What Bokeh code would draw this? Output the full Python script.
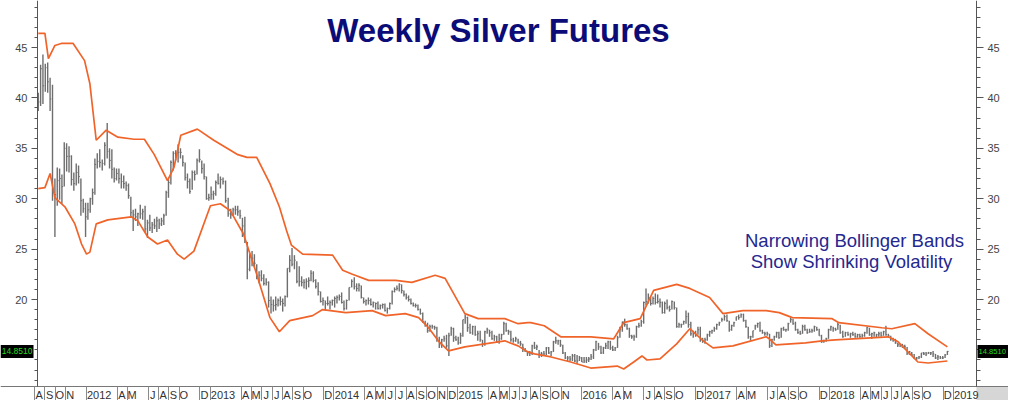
import numpy as np
import pandas as pd
from bokeh.plotting import figure
from bokeh.models import Range1d, LinearAxis, FixedTicker, Label
from bokeh.embed import file_html
from bokeh.resources import INLINE

# ---------------- data (weekly bars, week ending Friday) ----------------
week_start = "2011-08-12"

high = [
    # 2011
    40.5, 43.3, 44.3, 43.4, 43.5, 42.0, 41.3, 32.0, 33.1, 33.0, 32.4, 35.6, 35.5, 35.2, 34.3, 32.6, 33.5, 33.3, 32.0, 30.0, 29.6,
    # 2012
    29.6, 30.1, 31.0, 34.0, 34.5, 34.9, 33.9, 35.6, 37.5, 35.0, 34.9, 33.1, 33.0, 33.0, 32.5, 32.3, 31.7, 31.5, 30.2, 28.9, 29.0,
    28.6, 29.4, 29.0, 29.3, 27.9, 28.4, 27.7, 28.0, 28.2, 28.0, 28.1, 28.5, 30.8, 31.9, 33.8, 34.7, 34.8, 35.4, 35.0, 34.3, 33.6,
    32.5, 32.0, 32.8, 32.8, 34.0, 34.9, 33.8, 33.5, 32.2, 30.5,
    # 2013
    31.2, 30.8, 31.8, 32.5, 32.2, 32.1, 31.8, 30.1, 29.0, 29.1, 29.3, 29.3, 28.9, 28.1, 28.2, 25.7, 24.6, 24.8, 24.5, 23.5, 22.8,
    22.9, 22.5, 22.1, 21.8, 20.3, 20.0, 20.3, 20.1, 20.3, 20.1, 20.4, 23.1, 24.4, 25.1, 24.4, 23.8, 23.3, 22.3, 22.0, 22.1, 22.2,
    22.9, 22.8, 22.0, 21.7, 20.8, 20.2, 19.9, 20.3, 19.9, 20.0,
    # 2014
    20.3, 20.4, 20.5, 20.7, 19.9, 20.0, 21.2, 22.0, 22.2, 21.6, 21.6, 21.4, 20.2, 20.0, 20.2, 20.1, 19.8, 19.7, 19.8, 19.5, 19.6,
    19.6, 19.2, 19.7, 20.9, 21.2, 21.4, 21.6, 21.5, 20.9, 20.6, 20.4, 20.1, 19.7, 19.6, 19.5, 19.1, 18.7, 17.9, 17.7, 17.5, 17.5,
    17.4, 17.3, 16.3, 16.1, 16.4, 16.5, 16.7, 17.3, 17.2, 16.4,
    # 2015
    16.3, 16.7, 18.0, 18.5, 18.3, 17.6, 17.4, 17.4, 16.9, 16.9, 16.0, 16.9, 17.2, 17.0, 16.9, 16.5, 16.4, 16.6, 16.6, 17.8, 17.7,
    17.0, 16.9, 16.2, 16.3, 16.1, 15.9, 15.6, 15.2, 14.9, 14.9, 15.5, 15.8, 15.5, 15.0, 14.8, 14.9, 15.3, 15.3, 14.9, 15.9, 16.3,
    16.0, 16.0, 15.5, 14.8, 14.4, 14.4, 14.6, 14.6, 14.5, 14.4,
    # 2016
    14.3, 14.3, 14.3, 14.3, 14.6, 15.1, 15.9, 15.7, 15.4, 15.3, 15.7, 15.9, 15.9, 15.4, 15.3, 16.4, 17.3, 17.8, 18.1, 17.6, 17.2,
    16.5, 16.5, 17.4, 17.7, 18.0, 19.8, 21.1, 20.6, 20.2, 20.3, 20.6, 20.5, 20.1, 19.8, 19.8, 20.0, 19.4, 19.9, 19.8, 19.2, 17.7,
    17.6, 17.9, 18.9, 18.7, 17.8, 16.9, 16.9, 17.3, 17.3, 16.2, 16.2,
    # 2017
    16.6, 16.9, 17.0, 17.3, 17.6, 17.8, 18.2, 18.5, 18.5, 17.9, 17.5, 17.8, 18.3, 18.5, 18.6, 18.6, 18.0, 17.3, 16.4, 16.9, 17.5,
    17.7, 17.8, 17.0, 16.8, 16.8, 16.6, 16.1, 16.4, 16.8, 16.8, 17.2, 17.3, 17.1, 17.7, 18.2, 18.1, 17.8, 17.1, 16.9, 17.5, 17.5,
    17.1, 17.1, 17.1, 17.4, 17.3, 17.1, 16.5, 16.0, 16.2, 17.1,
    # 2018
    17.4, 17.3, 17.2, 17.7, 17.5, 16.9, 16.8, 16.8, 16.7, 16.8, 16.7, 16.6, 16.6, 16.6, 16.8, 17.3, 17.2, 16.7, 16.8, 16.6, 16.8,
    16.8, 16.9, 17.4, 16.6, 16.4, 16.2, 16.1, 15.7, 15.6, 15.6, 15.5, 15.3, 14.9, 14.8, 14.6, 14.3, 14.4, 14.7, 14.8, 14.8, 14.8,
    14.8, 14.9, 14.6, 14.5, 14.4, 14.4, 14.6, 14.9,
]

low = [
    # 2011
    38.7, 39.2, 39.4, 40.6, 40.5, 38.7, 29.8, 26.2, 29.3, 29.9, 29.5, 31.2, 32.7, 32.6, 31.3, 30.8, 31.3, 31.5, 28.3, 28.6, 26.2,
    # 2012
    27.9, 28.6, 29.4, 30.4, 33.0, 33.1, 32.8, 33.3, 34.0, 33.0, 32.0, 31.6, 31.8, 31.5, 31.0, 31.0, 30.8, 30.0, 28.2, 26.8, 27.8,
    27.3, 28.0, 27.9, 26.7, 26.1, 26.8, 26.6, 27.0, 26.7, 27.0, 27.3, 27.4, 28.3, 30.1, 31.4, 32.8, 33.8, 33.6, 34.0, 33.2, 31.8,
    31.0, 30.5, 30.9, 31.8, 32.4, 33.6, 32.5, 31.9, 29.9, 29.8,
    # 2013
    29.9, 29.9, 30.3, 31.4, 31.0, 31.4, 29.6, 28.2, 28.0, 28.3, 28.4, 28.3, 28.0, 26.2, 25.6, 22.0, 22.8, 23.3, 23.2, 22.0, 21.6,
    21.8, 21.4, 21.4, 19.2, 18.6, 18.8, 18.9, 19.3, 19.4, 18.8, 19.3, 20.2, 22.7, 23.3, 23.0, 21.6, 21.3, 21.3, 21.1, 21.0, 21.2,
    21.8, 21.7, 21.1, 20.4, 19.7, 19.4, 18.9, 19.4, 19.0, 19.4,
    # 2014
    19.2, 19.6, 19.9, 19.6, 18.9, 19.0, 19.9, 21.2, 21.0, 20.8, 20.8, 20.1, 19.6, 19.4, 19.5, 19.4, 19.2, 19.0, 19.0, 19.0, 19.1,
    18.8, 18.6, 19.0, 19.5, 20.7, 20.9, 20.8, 20.6, 20.3, 20.0, 19.8, 19.5, 19.3, 19.2, 18.9, 18.5, 17.7, 17.3, 16.7, 16.8, 17.1,
    17.0, 15.8, 15.2, 15.2, 15.8, 15.2, 14.4, 16.4, 15.8, 15.9,
    # 2015
    15.5, 15.6, 16.3, 17.6, 16.8, 16.6, 16.5, 16.4, 15.9, 15.8, 15.3, 15.4, 16.6, 16.3, 16.0, 15.9, 15.7, 15.6, 16.0, 16.5, 16.8,
    16.5, 15.8, 15.7, 15.8, 15.6, 15.4, 14.8, 14.8, 14.4, 14.4, 14.5, 15.1, 15.0, 14.2, 14.3, 14.4, 14.5, 14.6, 14.4, 14.8, 15.6,
    15.5, 15.3, 14.6, 14.1, 13.9, 13.9, 13.9, 13.8, 13.6, 13.9,
    # 2016
    13.8, 13.7, 13.7, 13.8, 14.0, 14.1, 14.9, 15.0, 14.6, 14.6, 15.1, 15.1, 15.0, 14.9, 14.9, 15.2, 16.2, 16.8, 17.3, 17.0, 16.2,
    16.1, 15.9, 16.2, 17.2, 17.3, 17.6, 19.4, 19.6, 19.4, 19.5, 19.5, 19.6, 19.2, 18.6, 18.6, 19.0, 18.8, 19.0, 19.0, 17.2, 17.2,
    17.2, 17.5, 17.6, 17.2, 16.4, 16.2, 16.3, 16.5, 15.8, 15.7, 15.6,
    # 2017
    15.9, 16.3, 16.6, 16.8, 17.0, 17.4, 17.8, 17.9, 17.8, 16.8, 16.9, 17.3, 17.9, 18.0, 18.2, 17.8, 17.2, 16.1, 15.9, 16.2, 17.0,
    17.2, 16.8, 16.6, 16.4, 16.4, 15.2, 15.3, 15.9, 16.2, 16.1, 16.2, 16.9, 16.8, 16.9, 17.7, 17.5, 16.9, 16.6, 16.5, 16.6, 16.9,
    16.6, 16.7, 16.7, 16.8, 16.9, 16.4, 15.7, 15.7, 15.8, 16.1,
    # 2018
    16.9, 16.8, 16.9, 17.0, 16.6, 16.2, 16.3, 16.4, 16.2, 16.4, 16.2, 16.2, 16.2, 16.2, 16.3, 16.6, 16.4, 16.1, 16.3, 16.2, 16.3,
    16.3, 16.4, 16.4, 16.2, 15.9, 15.8, 15.6, 15.3, 15.3, 15.2, 15.1, 14.5, 14.5, 14.4, 14.1, 14.0, 14.1, 14.2, 14.5, 14.4, 14.6,
    14.5, 14.3, 14.1, 14.0, 14.1, 14.1, 14.2, 14.5,
]

close = [
    # 2011
    39.6, 42.9, 41.2, 43.0, 41.6, 39.9, 30.7, 30.4, 31.8, 32.0, 31.2, 35.0, 34.2, 34.2, 31.9, 31.5, 32.6, 32.2, 29.8, 29.0, 28.2,
    # 2012
    28.9, 30.0, 30.6, 33.4, 33.7, 33.6, 33.5, 35.3, 34.7, 33.8, 32.9, 32.0, 32.5, 32.0, 31.7, 31.5, 31.3, 30.3, 28.6, 28.4, 28.2,
    28.5, 28.5, 28.7, 27.0, 27.6, 27.1, 27.4, 27.3, 27.8, 27.5, 27.8, 28.3, 30.6, 31.6, 33.6, 34.5, 34.2, 34.6, 34.6, 33.6, 32.1,
    31.7, 30.7, 32.6, 32.4, 33.8, 33.9, 33.0, 32.2, 30.0, 30.1,
    # 2013
    30.4, 30.5, 31.6, 31.5, 31.9, 31.7, 29.8, 28.5, 28.4, 28.9, 28.9, 28.7, 28.3, 27.3, 25.8, 23.0, 24.2, 24.1, 23.6, 22.2, 22.4,
    22.1, 21.6, 21.7, 19.9, 19.5, 19.4, 19.5, 19.9, 19.8, 19.6, 20.3, 23.1, 23.9, 23.5, 23.9, 21.8, 21.8, 21.7, 21.7, 21.8, 21.9,
    22.6, 21.9, 21.3, 20.8, 19.8, 19.9, 19.6, 19.6, 19.7, 19.9,
    # 2014
    20.1, 20.2, 20.3, 19.7, 19.1, 19.9, 21.2, 21.8, 21.3, 21.1, 21.4, 20.2, 19.8, 19.9, 19.9, 19.5, 19.7, 19.6, 19.1, 19.4, 19.5,
    18.9, 19.1, 19.6, 20.8, 21.0, 21.1, 21.5, 20.9, 20.5, 20.2, 20.0, 19.6, 19.4, 19.4, 19.0, 18.6, 17.8, 17.5, 16.9, 17.3, 17.3,
    17.2, 16.1, 15.5, 16.0, 16.1, 15.4, 16.4, 17.1, 16.2, 16.0,
    # 2015
    15.7, 16.4, 18.0, 18.2, 17.2, 16.7, 17.3, 16.5, 16.6, 16.0, 15.6, 16.8, 17.0, 16.7, 16.1, 16.3, 15.8, 16.1, 16.5, 17.6, 16.9,
    16.8, 16.0, 15.9, 16.1, 15.7, 15.6, 15.2, 14.9, 14.7, 14.7, 15.4, 15.2, 15.3, 14.6, 14.6, 14.6, 15.2, 14.7, 14.8, 15.8, 15.9,
    15.9, 15.5, 14.7, 14.2, 14.2, 14.1, 14.4, 13.9, 13.9, 14.2,
    # 2016
    13.8, 13.9, 14.0, 14.1, 14.3, 15.0, 15.8, 15.3, 14.7, 15.2, 15.4, 15.8, 15.2, 15.0, 15.2, 16.2, 17.0, 17.8, 17.5, 17.1, 16.4,
    16.3, 16.3, 17.3, 17.4, 17.8, 19.7, 19.8, 20.2, 19.6, 20.1, 19.7, 19.8, 19.7, 18.7, 19.6, 19.2, 19.0, 19.8, 19.2, 17.3, 17.5,
    17.5, 17.8, 18.3, 17.5, 16.6, 16.6, 16.5, 17.0, 16.0, 15.9, 16.0,
    # 2017
    16.5, 16.8, 16.9, 17.1, 17.5, 17.7, 18.0, 18.3, 17.9, 17.0, 17.4, 17.7, 18.3, 18.2, 18.5, 17.9, 17.3, 16.3, 16.3, 16.9, 17.4,
    17.6, 16.9, 16.7, 16.6, 16.6, 15.4, 16.0, 16.3, 16.7, 16.2, 17.1, 17.0, 17.0, 17.6, 18.0, 17.6, 17.0, 16.7, 16.6, 17.3, 17.0,
    16.7, 16.8, 16.9, 17.3, 17.0, 16.4, 15.8, 15.9, 16.1, 17.0,
    # 2018
    17.3, 17.1, 17.0, 17.5, 16.7, 16.3, 16.7, 16.5, 16.6, 16.5, 16.3, 16.5, 16.3, 16.4, 16.7, 17.2, 16.5, 16.6, 16.7, 16.5, 16.6,
    16.4, 16.8, 16.5, 16.4, 16.1, 16.0, 15.7, 15.5, 15.4, 15.4, 15.3, 14.7, 14.8, 14.5, 14.2, 14.2, 14.3, 14.7, 14.6, 14.6, 14.7,
    14.7, 14.6, 14.2, 14.3, 14.2, 14.2, 14.5, 14.85,
]

# Bollinger bands
upper_dates = ["2011-08-12", "2011-09-01", "2011-09-11", "2011-09-30", "2011-10-19", "2011-11-23", "2011-12-27",
               "2012-01-12", "2012-01-31", "2012-02-28", "2012-04-03", "2012-05-21", "2012-06-20", "2012-07-19",
               "2012-08-28", "2012-09-16", "2012-10-06", "2012-11-24", "2013-01-12", "2013-03-20", "2013-04-18",
               "2013-05-17", "2013-06-25", "2013-07-23", "2013-08-14", "2013-08-28", "2013-09-30", "2013-12-28",
               "2014-01-27", "2014-02-23", "2014-04-12", "2014-06-30", "2014-08-18", "2014-10-26", "2014-11-24",
               "2015-01-22", "2015-02-28", "2015-05-18", "2015-06-26", "2015-07-25", "2015-08-03", "2015-09-12",
               "2015-10-31", "2016-01-28", "2016-04-04", "2016-05-03", "2016-06-21", "2016-07-31", "2016-10-07",
               "2016-11-15", "2017-01-13", "2017-02-20", "2017-04-19", "2017-06-27", "2017-08-05", "2017-09-13",
               "2018-01-09", "2018-01-29", "2018-06-03", "2018-07-02", "2018-09-09", "2018-10-18", "2018-12-14"]
upper_vals = [46.4, 46.4, 43.9, 45.2, 45.4, 45.4, 43.7, 41.4, 35.8, 36.8, 36.1, 35.9, 35.9, 34.4, 31.8, 33.1, 36.3,
              36.9, 35.8, 34.4, 34.1, 34.1, 31.5, 29.2, 26.8, 25.4, 24.5, 24.4, 22.9, 22.5, 21.9, 21.9, 21.7, 22.4,
              22.1, 18.6, 18.1, 18.1, 17.6, 17.7, 17.7, 17.4, 16.3, 16.3, 16.1, 17.7, 18.1, 20.9, 21.5, 21.1, 20.2,
              18.6, 18.9, 18.9, 18.7, 18.2, 18.1, 17.7, 17.2, 17.1, 17.6, 16.6, 15.3]

lower_dates = ["2011-08-12", "2011-09-01", "2011-09-16", "2011-09-30", "2011-10-30", "2011-11-28", "2011-12-18",
               "2012-01-02", "2012-01-12", "2012-01-31", "2012-03-04", "2012-05-12", "2012-06-01", "2012-06-30",
               "2012-07-29", "2012-08-28", "2012-09-26", "2012-10-16", "2012-11-14", "2013-01-02", "2013-02-01",
               "2013-02-28", "2013-04-08", "2013-05-17", "2013-06-25", "2013-07-23", "2013-08-23", "2013-10-30",
               "2013-11-28", "2014-02-05", "2014-04-22", "2014-06-01", "2014-07-29", "2014-09-07", "2014-10-06",
               "2014-11-04", "2014-12-04", "2015-01-22", "2015-03-20", "2015-05-18", "2015-06-26", "2015-07-25",
               "2015-08-14", "2015-10-02", "2015-11-29", "2016-01-28", "2016-04-14", "2016-05-03", "2016-06-02",
               "2016-06-26", "2016-07-11", "2016-08-19", "2016-10-07", "2016-11-15", "2016-12-25", "2017-01-23",
               "2017-03-21", "2017-06-27", "2017-07-06", "2017-07-26", "2017-10-22", "2017-12-10", "2018-01-19",
               "2018-06-22", "2018-07-21", "2018-09-18", "2018-10-18", "2018-12-14"]
lower_vals = [31.0, 31.1, 32.5, 30.1, 29.2, 27.5, 25.5, 24.5, 24.7, 27.5, 27.9, 28.2, 27.8, 26.2, 25.5, 25.9, 24.5,
              24.0, 24.8, 29.3, 29.5, 28.8, 26.5, 22.5, 18.2, 16.8, 17.9, 18.4, 19.0, 18.7, 18.9, 18.4, 18.6, 18.2,
              17.2, 15.9, 14.9, 15.3, 15.6, 15.9, 15.4, 14.8, 14.6, 14.3, 13.8, 13.2, 13.4, 13.1, 13.8, 14.4, 14.0,
              14.1, 15.6, 17.1, 15.9, 15.2, 15.4, 16.3, 16.1, 15.5, 15.7, 15.9, 16.0, 16.3, 15.8, 13.8, 13.7, 13.9]

# axis labels (month boxes)
tick_months = ["2011-08", "2011-09", "2011-10", "2011-11",
               "2012-01", "2012-04", "2012-05", "2012-07", "2012-08", "2012-09", "2012-10", "2012-12",
               "2013-01", "2013-04", "2013-05", "2013-06", "2013-07", "2013-08", "2013-09", "2013-10", "2013-12",
               "2014-01", "2014-04", "2014-05", "2014-06", "2014-07", "2014-08", "2014-09", "2014-10", "2014-11", "2014-12",
               "2015-01", "2015-04", "2015-05", "2015-06", "2015-07", "2015-08", "2015-09", "2015-10", "2015-11",
               "2016-01", "2016-04", "2016-05", "2016-07", "2016-08", "2016-09", "2016-10", "2016-12",
               "2017-01", "2017-04", "2017-05", "2017-07", "2017-08", "2017-09", "2017-10", "2017-12",
               "2018-01", "2018-04", "2018-05", "2018-06", "2018-07", "2018-08", "2018-09", "2018-10", "2018-12",
               "2019-01"]
tick_texts = ["A", "S", "O", "N",
              "2012", "A", "M", "J", "A", "S", "O", "D",
              "2013", "A", "M", "J", "J", "A", "S", "O", "D",
              "2014", "A", "M", "J", "J", "A", "S", "O", "N", "D",
              "2015", "A", "M", "J", "J", "A", "S", "O", "N",
              "2016", "A", "M", "J", "A", "S", "O", "D",
              "2017", "A", "M", "J", "A", "S", "O", "D",
              "2018", "A", "M", "J", "J", "A", "S", "O", "D",
              "2019"]
y_major = [20, 25, 30, 35, 40, 45]
y_minor = list(range(12, 50))
last_price = 14.851
last_price_text = "14.8510"
title_text = "Weekly Silver Futures"
note_lines = ["Narrowing Bollinger Bands", "Show Shrinking Volatility"]

# ---------------- helpers ----------------
def month_pos(dates):
    d = pd.DatetimeIndex(dates)
    return ((d.year - 2011) * 12 + (d.month - 1) + (d.day - 1) / d.days_in_month).to_numpy(dtype=float)

n = min(len(high), len(low), len(close))
wk = pd.date_range(week_start, periods=n, freq="W-FRI")
xw = month_pos(wk)
hi = np.array(high[:n]); lo = np.array(low[:n]); cl = np.array(close[:n])

BAR = "#6e6e6e"
BAND = "#F0642A"
NAVY = "#0c0c78"
NOTE = "#24288f"
FONT = "Liberation Sans"

W, H = 1008, 400
LEFT_PX, RIGHT_PX = 37, 976           # positions of the value axes
X0 = 7.28                             # time at the left value axis
PX_X = (RIGHT_PX - LEFT_PX) / 90.96   # pixels per month
X1 = X0 + (RIGHT_PX - LEFT_PX) / PX_X
PX_Y = 10.08                          # pixels per dollar
Y_TOP = 20 + 299 / PX_Y               # value at the top edge
BASE_PX = 386                         # time axis line
YB = Y_TOP - BASE_PX / PX_Y
Y_BOT = Y_TOP - H / PX_Y

def px(page_x):
    return X0 + (page_x - LEFT_PX) / PX_X

def py(page_y):
    return Y_TOP - page_y / PX_Y

p = figure(width=W, height=H, output_backend="svg", toolbar_location=None,
           x_range=Range1d(px(0), px(W)), y_range=Range1d(Y_BOT, Y_TOP),
           min_border_left=0, min_border_right=0, min_border_top=0, min_border_bottom=0)
p.outline_line_color = None
p.xgrid.visible = False
p.ygrid.visible = False
p.background_fill_color = "white"
p.border_fill_color = "white"

# grey cell under the right price scale in the time strip
p.quad(left=[X1], right=[px(W)], bottom=[Y_BOT], top=[YB], fill_color="#d6d6d6", line_color=None)

# bars
p.segment(x0=xw, y0=lo, x1=xw, y1=hi, line_color=BAR, line_width=1.4)
p.segment(x0=xw, y0=cl, x1=xw + 0.12, y1=cl, line_color=BAR, line_width=1)

# bands
p.line(month_pos(upper_dates), upper_vals, line_color=BAND, line_width=1.7)
p.line(month_pos(lower_dates), lower_vals, line_color=BAND, line_width=1.7)

# time axis: boxed month labels
starts = [float(s) for s in month_pos([m + "-01" for m in tick_months])]
label_pos = [round(s + (0.45 if len(t) == 1 else 1.25), 3) for s, t in zip(starts, tick_texts)]
xa = p.xaxis[0]
xa.fixed_location = YB
xa.ticker = FixedTicker(ticks=label_pos)
xa.major_label_overrides = {pos: t for pos, t in zip(label_pos, tick_texts)}
xa.major_tick_out = 0
xa.major_tick_in = 0
xa.minor_tick_out = 0
xa.minor_tick_in = 0
xa.axis_line_color = "#777777"
xa.major_label_standoff = 2
xa.major_label_text_font = FONT
xa.major_label_text_font_size = "11px"
xa.major_label_text_color = "#333333"

sep = LinearAxis(fixed_location=YB, ticker=FixedTicker(ticks=starts),
                 major_label_overrides={s: "" for s in starts})
sep.axis_line_color = None
sep.major_tick_out = 14
sep.major_tick_in = 0
sep.minor_tick_out = 0
sep.minor_tick_in = 0
sep.major_tick_line_color = "#8a8a8a"
sep.major_label_text_font_size = "1px"
p.add_layout(sep, "below")

# value axes
def style_y(ax, major_out, minor_out, standoff):
    ax.ticker = FixedTicker(ticks=y_major, minor_ticks=y_minor)
    ax.bounds = (YB, Y_TOP)
    ax.major_tick_out = major_out
    ax.major_tick_in = 0
    ax.minor_tick_out = minor_out
    ax.minor_tick_in = 0
    ax.axis_line_color = "#555555"
    ax.major_tick_line_color = "#555555"
    ax.minor_tick_line_color = "#555555"
    ax.major_label_standoff = standoff
    ax.major_label_text_font = FONT
    ax.major_label_text_font_size = "11px"
    ax.major_label_text_color = "#444444"

la = p.yaxis[0]
la.fixed_location = X0
style_y(la, 6, 3, 4)
ra = LinearAxis(fixed_location=X1)
style_y(ra, 7, 4, 4)
p.add_layout(ra, "right")

# last-price tags (black bar = thick tick, green label on top of it)
def price_axis(loc, out, standoff, size):
    ax = LinearAxis(fixed_location=loc, ticker=FixedTicker(ticks=[last_price]),
                    major_label_overrides={last_price: last_price_text})
    ax.axis_line_color = None
    ax.major_tick_out = out
    ax.major_tick_in = 0
    ax.minor_tick_out = 0
    ax.minor_tick_in = 0
    ax.major_tick_line_width = 13
    ax.major_tick_line_color = "black"
    ax.major_label_standoff = standoff
    ax.major_label_text_font = FONT
    ax.major_label_text_font_size = size
    ax.major_label_text_color = "#22dd22"
    return ax

p.add_layout(price_axis(px(33), 33, -32, "8.5px"), "left")
p.add_layout(price_axis(px(977), 31, -30, "7.6px"), "right")

# texts
p.add_layout(Label(x=px(498), y=py(30), text=title_text, text_align="center",
                   text_baseline="middle", text_font=FONT, text_font_size="33px",
                   text_font_style="bold", text_color=NAVY))
p.add_layout(Label(x=px(854), y=py(239.5), text=note_lines[0], text_align="center",
                   text_baseline="middle", text_font=FONT, text_font_size="18.5px", text_color=NOTE))
p.add_layout(Label(x=px(851), y=py(261), text=note_lines[1], text_align="center",
                   text_baseline="middle", text_font=FONT, text_font_size="18.5px", text_color=NOTE))

open("out.html", "w").write(file_html(p, INLINE))
